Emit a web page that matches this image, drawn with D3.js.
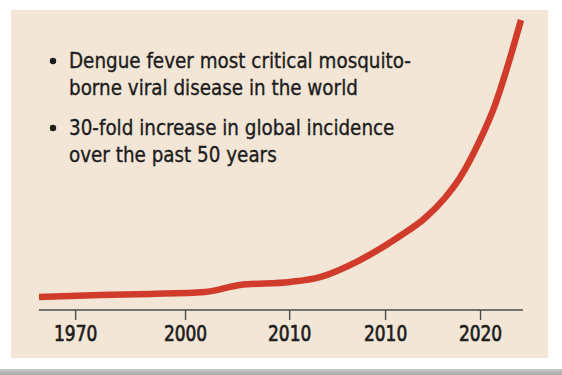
<!DOCTYPE html>
<html>
<head>
<meta charset="utf-8">
<script src="https://cdn.jsdelivr.net/npm/d3@7"></script>
<style>
  html, body { margin: 0; padding: 0; background: #fff; }
  svg { display: block; }
</style>
</head>
<body>
<div id="chart"></div>
<script>
// positions along the (unevenly labelled) time axis, 0..100
const xPos = [0, 12.7, 23, 34.4, 41.7, 52.1, 58.3, 66.6, 74.9, 80.1, 84.2, 87.3, 91.5, 94.6, 97.1, 100];
// relative incidence (starting ~1, ~30-fold at the end)
const incidence = [1.34, 1.55, 1.66, 1.86, 2.59, 2.9, 3.41, 5.17, 7.66, 9.52, 11.59, 13.65, 17.59, 21.2, 25.03, 30];

const tickPos = [7.5, 30.3, 51.9, 71.8, 91.5];
const tickLabels = ['1970', '2000', '2010', '2010', '2020'];

const bullets = [
  ['Dengue fever most critical mosquito-', 'borne viral disease in the world'],
  ['30-fold increase in global incidence', 'over the past 50 years'],
];

const W = 562, H = 375;
const FONT = '"DejaVu Sans Condensed", "Liberation Sans", sans-serif';
const INK = '#1c1c1c';

const svg = d3.select('#chart').append('svg').attr('width', W).attr('height', H);

// panel background
svg.append('rect')
  .attr('x', 11).attr('y', 10)
  .attr('width', 537).attr('height', 348)
  .attr('fill', '#f3e6d6');

// grey rule at bottom
const grad = svg.append('defs').append('linearGradient')
  .attr('id', 'rule').attr('x1', 0).attr('x2', 0).attr('y1', 0).attr('y2', 1);
grad.append('stop').attr('offset', '0%').attr('stop-color', '#c8c8c8');
grad.append('stop').attr('offset', '100%').attr('stop-color', '#a9a9a9');
svg.append('rect')
  .attr('x', 0).attr('y', 369)
  .attr('width', W).attr('height', 6)
  .attr('fill', 'url(#rule)');

const x = d3.scaleLinear().domain([0, 100]).range([39, 521]);
const y = d3.scaleLinear().domain([0, 30]).range([310, 20]);

// axis
const axisG = svg.append('g').attr('transform', `translate(0,${y(0)})`);
axisG.call(
  d3.axisBottom(x)
    .tickValues(tickPos)
    .tickFormat((d, i) => tickLabels[i])
    .tickSize(10)
    .tickPadding(5)
);
axisG.select('.domain')
  .attr('d', `M${x(0)},0H${x(100) + 2}`)
  .attr('stroke', '#4a4a4a')
  .attr('stroke-width', 1.4);
axisG.selectAll('.tick line').attr('stroke', '#4a4a4a').attr('stroke-width', 1.4);
axisG.selectAll('.tick text')
  .attr('font-family', FONT)
  .attr('font-size', '22px')
  .attr('fill', INK)
  .attr('stroke', INK)
  .attr('stroke-width', 0.7)
  .attr('transform', 'scale(0.86,1)');

// line
const pts = xPos.map((d, i) => ({ x: d, v: incidence[i] }));
const line = d3.line()
  .x(d => x(d.x))
  .y(d => y(d.v))
  .curve(d3.curveMonotoneX);

svg.append('path')
  .datum(pts)
  .attr('fill', 'none')
  .attr('stroke', '#d13b2b')
  .attr('stroke-width', 6.5)
  .attr('stroke-linejoin', 'round')
  .attr('d', line);

// bullet text
const textG = svg.append('g')
  .attr('font-family', FONT)
  .attr('font-size', '22px')
  .attr('fill', INK);

const baselines = [68, 135];
bullets.forEach((lines, bi) => {
  const by = baselines[bi];
  textG.append('circle')
    .attr('cx', 53).attr('cy', by - 7)
    .attr('r', 3.2)
    .attr('fill', INK);
  lines.forEach((t, li) => {
    textG.append('text')
      .attr('transform', `translate(69,${by + li * 27}) scale(0.927,1)`)
      .attr('stroke', INK)
      .attr('stroke-width', 0.35)
      .text(t);
  });
});
</script>
</body>
</html>
